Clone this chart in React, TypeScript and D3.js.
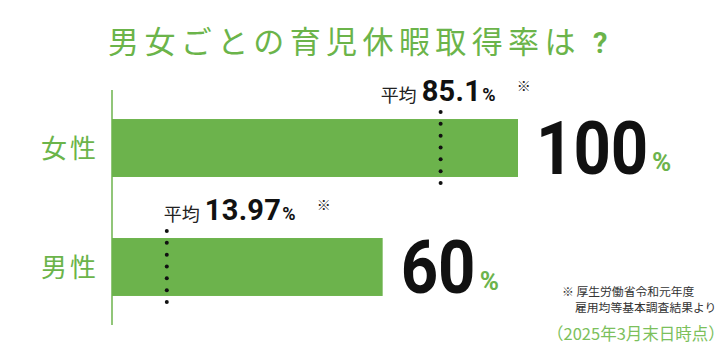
import React from "react";
import * as d3 from "d3";

// data
const categories = ["女性", "男性"];
const rates = [100, 60];
const averages = [85.1, 13.97];
const averageLabels = ["85.1", "13.97"];
const footnotes = ["※ 厚生労働省令和元年度", "雇用均等基本調査結果より"];
const asOf = "（2025年3月末日時点）";
const title = "男女ごとの育児休暇取得率は";

const W = 727;
const H = 354;
const GREEN = "#6cb34c";
const TEXT_GREEN = "#6bb44a";
const JP = "'Noto Sans CJK JP', 'Noto Sans', sans-serif";
const NUM = "Roboto, 'DejaVu Sans', sans-serif";

// where the "平均" label starts relative to its dotted line
const labelShift = [-60, -3];
// big value labels are squeezed horizontally for a condensed look
const squeeze = 0.87;

export default function App() {
  const axisX = 112;
  const y = d3
    .scaleBand<string>()
    .domain(categories)
    .range([90, 325])
    .paddingInner(0.513)
    .paddingOuter(0.244);
  // bar length scale (stylised, bars do not start at 0)
  const xBar = d3.scaleLinear().domain([-20, 100]).range([axisX, 518]);
  // average marker scale
  const xAvg = d3.scaleLinear().domain([0, 100]).range([113, 498]);

  const bw = y.bandwidth();

  return (
    <svg
      width={W}
      height={H}
      style={{ position: "absolute", left: 0, top: 0, background: "#fff" }}
    >
      <text
        x={108}
        y={53}
        fontFamily={JP}
        fontSize={31}
        letterSpacing={5.4}
        fill={TEXT_GREEN}
      >
        {title}
        <tspan fontFamily={NUM} fontWeight={700} fontSize={29} dx={12}>
          ?
        </tspan>
      </text>

      {categories.map((c, i) => {
        const top = y(c)!;
        const dotX = xAvg(averages[i]);
        const dots = d3.range(7).map((k) => top - 7 + (k * (bw + 13)) / 6);
        const lx = dotX + labelShift[i];
        const ly = top - 18;
        const vx = xBar(rates[i]) + 18;
        const vy = top + bw / 2 + 26;
        const digits = String(rates[i]).length;
        return (
          <g key={c}>
            <text
              x={41}
              y={top + bw / 2 + 10}
              fontFamily={JP}
              fontSize={26}
              letterSpacing={3}
              fill={TEXT_GREEN}
            >
              {c}
            </text>
            <rect
              x={axisX}
              y={top}
              width={xBar(rates[i]) - axisX}
              height={bw}
              fill={GREEN}
            />
            {dots.map((dy, k) => (
              <circle key={k} cx={dotX} cy={dy} r={2} fill="#111" />
            ))}
            <text x={lx} y={ly + 1} fontFamily={JP} fontSize={18} fill="#222">
              平均
            </text>
            <text
              x={lx + 41}
              y={ly}
              fontFamily={NUM}
              fontWeight={700}
              fontSize={29}
              letterSpacing={0.3}
              fill="#111"
            >
              {averageLabels[i]}
              <tspan fontSize={18} dx={1}>
                %
              </tspan>
            </text>
            <text
              x={lx + 136 + (i === 1 ? 17 : 0)}
              y={ly - 10}
              fontFamily={JP}
              fontSize={14}
              fill="#222"
            >
              ※
            </text>
            <text
              transform={`translate(${vx},${vy}) scale(${squeeze},1)`}
              fontFamily={NUM}
              fontWeight={700}
              fontSize={75}
              fill="#111"
            >
              {rates[i]}
            </text>
            <text
              x={vx + digits * 37 + 5}
              y={vy - 3}
              fontFamily={NUM}
              fontWeight={700}
              fontSize={26}
              fill={GREEN}
            >
              %
            </text>
          </g>
        );
      })}

      <line
        x1={axisX}
        x2={axisX}
        y1={y.range()[0]}
        y2={y.range()[1]}
        stroke={GREEN}
        strokeWidth={1.5}
      />

      {footnotes.map((f, i) => (
        <text
          key={i}
          x={i === 0 ? 562 : 575}
          y={296 + i * 16}
          fontFamily={JP}
          fontSize={11.8}
          fill="#333"
        >
          {f}
        </text>
      ))}
      <text x={547} y={340} fontFamily={JP} fontSize={16.5} fill="#7cc05c">
        {asOf}
      </text>
    </svg>
  );
}
